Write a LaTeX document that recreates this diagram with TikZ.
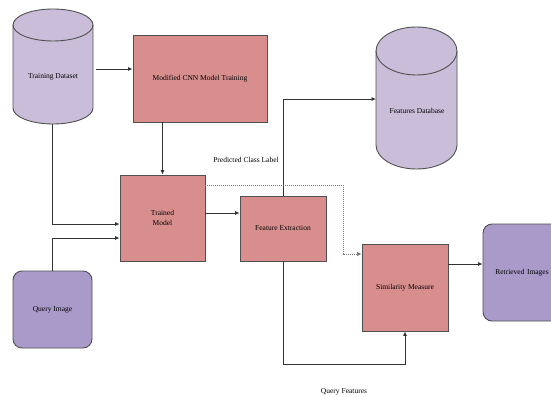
\documentclass[tikz,border=0pt]{standalone}
\usepackage{fontspec}
\setmainfont{Liberation Serif}
\usetikzlibrary{arrows.meta,calc}
\definecolor{boxpink}{HTML}{D98E8E}
\definecolor{cyl}{HTML}{C9BDDA}
\definecolor{qimg}{HTML}{A99AC9}
\definecolor{edge}{HTML}{505050}
\tikzset{
  procbox/.style={draw=edge, line width=0.9pt, fill=boxpink, inner sep=1pt, align=center, font=\fontsize{7.5}{9.5}\selectfont},
  imgbox/.style={draw=edge, line width=0.9pt, fill=qimg, rounded corners=9pt, inner sep=1pt, align=center, font=\fontsize{7.5}{9.5}\selectfont},
  cyllabel/.style={inner sep=0pt, align=center, font=\fontsize{7.5}{9.5}\selectfont},
  lbl/.style={inner sep=0pt, font=\fontsize{7.5}{9.5}\selectfont},
  arr/.style={draw=black!80, line width=0.95pt, -{Latex[length=4.5pt,width=4.2pt]}},
  dotarr/.style={draw=black!55, line width=0.6pt, dash pattern=on 1pt off 1pt, -{Latex[length=4.5pt,width=4.2pt]}},
}
\begin{document}
\begin{tikzpicture}[x=1pt,y=-1pt]
\useasboundingbox (0,0) rectangle (551,396);
\begin{scope}
\clip (0,0) rectangle (551,396);
% Training Dataset cylinder
\filldraw[draw=edge, line width=0.9pt, fill=cyl]
  (13,25) -- (13,108) arc[start angle=180, end angle=360, x radius=40pt, y radius=16pt] -- (93,25)
  arc[start angle=0, end angle=180, x radius=40pt, y radius=16pt];
\draw[edge, line width=0.9pt] (13,25) arc[start angle=180, end angle=360, x radius=40pt, y radius=16pt];
\node[cyllabel] (td) at (53,77) {Training Dataset};
\coordinate (tdbot) at (52,124);
\coordinate (tdout) at (96,69);
% Features Database cylinder
\filldraw[draw=edge, line width=0.9pt, fill=cyl]
  (376,51) -- (376,145) arc[start angle=180, end angle=360, x radius=40.5pt, y radius=24pt] -- (457,51)
  arc[start angle=0, end angle=180, x radius=40.5pt, y radius=24pt];
\draw[edge, line width=0.9pt] (376,51) arc[start angle=180, end angle=360, x radius=40.5pt, y radius=24pt];
\node[cyllabel] (fdb) at (417,111) {Features Database};
\coordinate (fdbin) at (376,99);
% boxes
\node[procbox, minimum width=134pt, minimum height=87pt] (cnn) at (200,78.5) {Modified CNN Model Training};
\node[procbox, minimum width=85pt, minimum height=86pt] (tm) at (162.5,218) {Trained\\Model};
\node[procbox, minimum width=86pt, minimum height=65pt] (fe) at (283,228.5) {Feature Extraction};
\node[procbox, minimum width=86pt, minimum height=87pt] (sm) at (405,287.5) {Similarity Measure};
\node[imgbox, minimum width=79pt, minimum height=77pt] (qi) at (52.5,309.5) {Query Image};
\node[imgbox, minimum width=78pt, minimum height=97pt, text width=74pt] (ri) at (522,272.5) {Retrieved Images};
\end{scope}
% labels
\node[lbl] (pcl) at (246,160) {Predicted Class Label};
\node[lbl] (qf) at (344,392) {Query Features};
% helper coordinates
\coordinate (tmin1) at ([yshift=-6pt]tm.west);
\coordinate (tmin2) at ([yshift=-20pt]tm.west);
\coordinate (tmout) at ([yshift=5pt]tm.east);
\coordinate (tmdot) at ([yshift=33pt]tm.east);
\coordinate (dotturn) at (343,254);
\coordinate (qfturn) at (405,364);
\coordinate (smout) at (448,264);
% connectors
\draw[arr] (tdout) -- (cnn.west |- tdout);
\draw[arr] (tm.north |- cnn.south) -- (tm.north);
\draw[arr] (tdbot) |- (tmin1);
\draw[arr] (qi.north) |- (tmin2);
\draw[arr] (tmout) -- (fe.west |- tmout);
\draw[arr] (fe.north) |- (fdbin);
\draw[dotarr] (tmdot) -| (dotturn) -- (sm.west |- dotturn);
\draw[arr] (fe.south) |- (qfturn) -- (sm.south);
\draw[arr] (sm.east |- smout) -- (ri.west |- smout);
\end{tikzpicture}
\end{document}
